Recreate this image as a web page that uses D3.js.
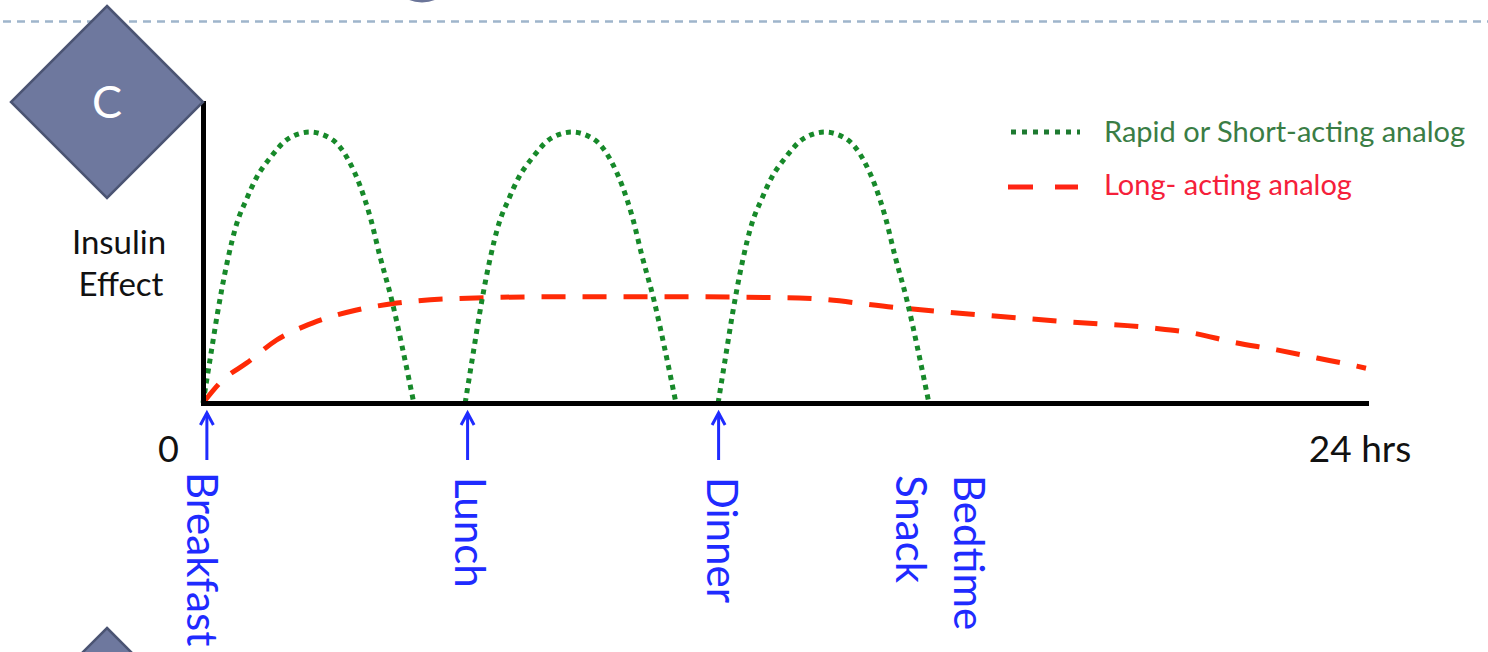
<!DOCTYPE html>
<html><head><meta charset="utf-8">
<script src="https://cdn.jsdelivr.net/npm/d3@7"></script>
<style>
html,body{margin:0;padding:0;background:#fff;}
svg{display:block;font-family:Lato,"Open Sans",sans-serif;}
</style></head>
<body><svg id="chart" width="1488" height="652"></svg>
<script>
// ---- data ----
const xDomain = [0, 24];          // hours
const yDomain = [0, 100];         // relative insulin effect
const tickLabels = ["0", "24 hrs"];
const yLabel = ["Insulin", "Effect"];
const seriesNames = ["Rapid or Short-acting analog", "Long- acting analog"];

const rapid1Hours  = [0,0.15,0.3,0.5,0.7,0.9,1.1,1.4,1.75,2.2,2.65,3.0,3.25,3.45,3.65,3.9,4.12,4.35];
const rapid1Values = [0,15,30,47,60,68,75,82,88,90.3,88,81,72,62,49,34,18,0];
const rapid2Hours  = [5.41,5.56,5.71,5.91,6.11,6.31,6.51,6.81,7.16,7.61,8.06,8.41,8.66,8.86,9.06,9.31,9.53,9.76];
const rapid2Values = [0,15,30,47,60,68,75,82,88,90.3,88,81,72,62,49,34,18,0];
const rapid3Hours  = [10.63,10.78,10.93,11.13,11.33,11.53,11.73,12.03,12.38,12.83,13.28,13.63,13.88,14.08,14.28,14.53,14.75,14.98];
const rapid3Values = [0,15,30,47,60,68,75,82,88,90.3,88,81,72,62,49,34,18,0];

const longHours  = [0,0.41,0.9,1.52,2.27,3.17,4.0,5.03,7.09,9.84,12.3,14.38,16.1,17.89,19.6,20.43,21.25,22.16,22.99,23.81,24];
const longValues = [0,7.7,13.3,21,26.7,31,33.3,34.7,35.4,35.4,35,31.7,29.3,27,25,23.3,20.3,17.7,15,12.3,11.6];

const meals = ["Breakfast", "Lunch", "Dinner"];
const mealHours = [0.08, 5.46, 10.64];
const snackLabel = ["Bedtime", "Snack"];
const snackHour = 14.9;

// ---- drawing ----
const svg = d3.select("#chart");
const x = d3.scaleLinear().domain(xDomain).range([203, 1366]);
const y = d3.scaleLinear().domain(yDomain).range([403, 103]);

// top dashed rule
svg.append("line").attr("x1", 3).attr("x2", 1488).attr("y1", 21.5).attr("y2", 21.5)
  .attr("stroke", "#9fb5cb").attr("stroke-width", 2.4).attr("stroke-dasharray", "8 6");
// cut-off title descender
svg.append("ellipse").attr("cx", 422).attr("cy", -6).attr("rx", 18).attr("ry", 8.5).attr("fill", "#6b7599");

const plot = svg.append("g");

// curves
const line = d3.line().x(d => x(d[0])).y(d => y(d[1])).curve(d3.curveMonotoneX);
const longData = longHours.map((h, i) => [h, longValues[i]]);
plot.append("path").datum(longData).attr("d", line).attr("fill", "none")
  .attr("stroke", "#ff2a06").attr("stroke-width", 5).attr("stroke-dasharray", "24 17");

[[rapid1Hours, rapid1Values], [rapid2Hours, rapid2Values], [rapid3Hours, rapid3Values]].forEach(([hs, vs]) => {
  plot.append("path").datum(hs.map((h, i) => [h, vs[i]])).attr("d", line).attr("fill", "none")
    .attr("stroke", "#17892a").attr("stroke-width", 5).attr("stroke-dasharray", "5 5");
});

// axes
const xAxis = d3.axisBottom(x).tickValues([]).tickSizeOuter(0);
const yAxis = d3.axisLeft(y).tickValues([]).tickSizeOuter(0);
const gx = plot.append("g").attr("transform", `translate(0,${y(0)})`).call(xAxis);
const gy = plot.append("g").attr("transform", `translate(${x(0)},0)`).call(yAxis);
[gx, gy].forEach(g => g.select(".domain").attr("stroke", "#000").attr("stroke-width", 5).attr("stroke-linecap", "square"));

// tick labels
svg.append("text").attr("x", x(0) - 24).attr("y", 462).attr("text-anchor", "end")
  .attr("font-size", 36).attr("fill", "#111").text(tickLabels[0]);
svg.append("text").attr("x", x(24) - 6).attr("y", 462).attr("text-anchor", "middle")
  .attr("font-size", 37).attr("fill", "#111").text(tickLabels[1]);

// y label
svg.append("text").attr("x", 119).attr("y", 254).attr("text-anchor", "middle")
  .attr("font-size", 33).attr("fill", "#111").text(yLabel[0]);
svg.append("text").attr("x", 121).attr("y", 296).attr("text-anchor", "middle")
  .attr("font-size", 33).attr("fill", "#111").text(yLabel[1]);

// meal arrows and labels
const blue = "#1f2bff";
const labelDx = [-20, -12.5, -11.5];
meals.forEach((m, i) => {
  const mx = x(mealHours[i]);
  svg.append("line").attr("x1", mx).attr("x2", mx).attr("y1", 413).attr("y2", 460)
    .attr("stroke", blue).attr("stroke-width", 3);
  svg.append("path").attr("d", `M${mx - 6.5},425 L${mx},413 L${mx + 6.5},425`)
    .attr("fill", "none").attr("stroke", blue).attr("stroke-width", 3);
  svg.append("text").attr("transform", `translate(${mx + labelDx[i]},${i === 0 ? 472 : 477}) rotate(90)`)
    .attr("font-size", 42).attr("fill", blue).text(m);
});
const sx = x(snackHour);
svg.append("text").attr("transform", `translate(${sx + 29},475) rotate(90)`)
  .attr("font-size", 42).attr("fill", blue).text(snackLabel[0]);
svg.append("text").attr("transform", `translate(${sx - 29},475) rotate(90)`)
  .attr("font-size", 42).attr("fill", blue).text(snackLabel[1]);

// legend
svg.append("line").attr("x1", 1011).attr("x2", 1080).attr("y1", 132).attr("y2", 132)
  .attr("stroke", "#1d7a30").attr("stroke-width", 5).attr("stroke-dasharray", "5 6");
svg.append("text").attr("x", 1104).attr("y", 142).attr("font-size", 29).attr("fill", "#3a7d45").text(seriesNames[0]);
svg.append("line").attr("x1", 1008).attr("x2", 1078).attr("y1", 187).attr("y2", 187)
  .attr("stroke", "#ff2414").attr("stroke-width", 5).attr("stroke-dasharray", "25 22");
svg.append("text").attr("x", 1104).attr("y", 195).attr("font-size", 29).attr("fill", "#f5203a").text(seriesNames[1]);

// diamonds
function diamond(cx, cy, r) {
  return `M${cx},${cy - r} L${cx + r},${cy} L${cx},${cy + r} L${cx - r},${cy} Z`;
}
svg.append("path").attr("d", diamond(107, 102, 96)).attr("fill", "#6e789e").attr("stroke", "#4b5473").attr("stroke-width", 2.5);
svg.append("text").attr("x", 107).attr("y", 118).attr("text-anchor", "middle")
  .attr("font-size", 45).attr("fill", "#fff").text("C");
svg.append("path").attr("d", diamond(107, 724, 96)).attr("fill", "#6e789e").attr("stroke", "#4b5473").attr("stroke-width", 2.5);
</script></body></html>
